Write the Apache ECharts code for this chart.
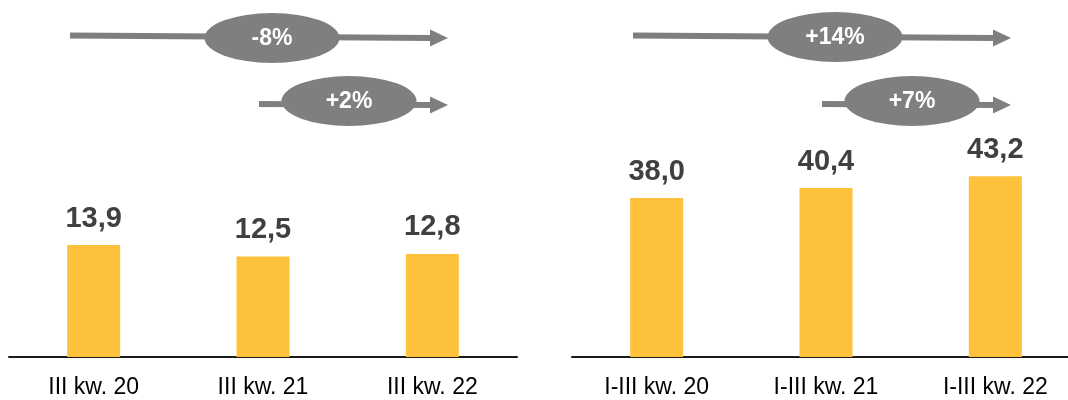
<!DOCTYPE html>
<html>
<head>
<meta charset="utf-8">
<script src="https://cdn.jsdelivr.net/npm/echarts@6/dist/echarts.min.js"></script>
<style>
  html, body { margin: 0; padding: 0; background: #ffffff; }
  #chart { width: 1068px; height: 400px; }
</style>
</head>
<body>
<div id="chart"></div>
<script>
// Quarterly values (left panel)
const quarterCategories = ['III kw. 20', 'III kw. 21', 'III kw. 22'];
const quarterValues = [13.9, 12.5, 12.8];
// Year-to-date values (right panel)
const ytdCategories = ['I-III kw. 20', 'I-III kw. 21', 'I-III kw. 22'];
const ytdValues = [38.0, 40.4, 43.2];
// Growth annotations: [first vs last, middle vs last]
const quarterGrowth = ['-8%', '+2%'];
const ytdGrowth = ['+14%', '+7%'];

const FONT = '"Liberation Sans", Arial, sans-serif';
const BAR = '#FDC13C';
const GREY = '#7F7F7F';

const fmt = v => v.toFixed(1).replace('.', ',');

function axisPair(cats) {
  return {
    type: 'category',
    data: cats,
    axisLine: { show: true, lineStyle: { color: '#1a1a1a', width: 2 } },
    axisTick: { show: false },
    axisLabel: { color: '#000', fontSize: 23, fontFamily: FONT, margin: 19, interval: 0 }
  };
}

function barSeries(values, axisIndex) {
  return {
    type: 'bar',
    xAxisIndex: axisIndex,
    yAxisIndex: axisIndex,
    data: values,
    barWidth: 53,
    itemStyle: { color: BAR },
    label: {
      show: true,
      position: 'top',
      distance: 12,
      formatter: p => fmt(p.value),
      color: '#404040',
      fontSize: 29,
      fontWeight: 'bold',
      fontFamily: FONT
    }
  };
}

// Growth arrow with an oval badge
function growthArrow(x1, y1, x2, y2, cx, cy, text) {
  const head = 18;
  const t = (x2 - head - x1) / (x2 - x1);
  const yh = y1 + (y2 - y1) * t;
  return [
    { type: 'line', shape: { x1: x1, y1: y1, x2: x2 - head + 1, y2: yh },
      style: { stroke: GREY, lineWidth: 6 }, z: 10 },
    { type: 'polygon', shape: { points: [[x2 - head, y2 - 8.5], [x2, y2], [x2 - head, y2 + 8.5]] },
      style: { fill: GREY }, z: 10 },
    { type: 'circle', x: cx, y: cy, scaleX: 67.5 / 25, scaleY: 1,
      shape: { cx: 0, cy: 0, r: 25 }, style: { fill: GREY }, z: 11 },
    { type: 'text', x: cx, y: cy + 1,
      style: { text: text, fill: '#ffffff', font: 'bold 23px ' + FONT, align: 'center', verticalAlign: 'middle' },
      z: 12 }
  ];
}

const chart = echarts.init(document.getElementById('chart'), null, { renderer: 'canvas' });

chart.setOption({
  backgroundColor: '#ffffff',
  animation: false,
  grid: [
    { left: 9, right: 551, top: 35, bottom: 43, outerBoundsMode: 'none', containLabel: false },
    { left: 572, right: -12, top: 35, bottom: 43, outerBoundsMode: 'none', containLabel: false }
  ],
  xAxis: [
    Object.assign({ gridIndex: 0 }, axisPair(quarterCategories)),
    Object.assign({ gridIndex: 1 }, axisPair(ytdCategories))
  ],
  yAxis: [
    { gridIndex: 0, type: 'value', min: 0, max: 40, show: false, splitLine: { show: false } },
    { gridIndex: 1, type: 'value', min: 0, max: 77, show: false, splitLine: { show: false } }
  ],
  series: [barSeries(quarterValues, 0), barSeries(ytdValues, 1)],
  graphic: [].concat(
    growthArrow(70, 35.5, 448, 38, 272, 38, quarterGrowth[0]),
    growthArrow(259, 104, 448, 105, 349, 101, quarterGrowth[1]),
    growthArrow(633, 35.5, 1011, 38, 835, 37, ytdGrowth[0]),
    growthArrow(822, 104, 1011, 105, 912, 101, ytdGrowth[1])
  )
});
</script>
</body>
</html>
